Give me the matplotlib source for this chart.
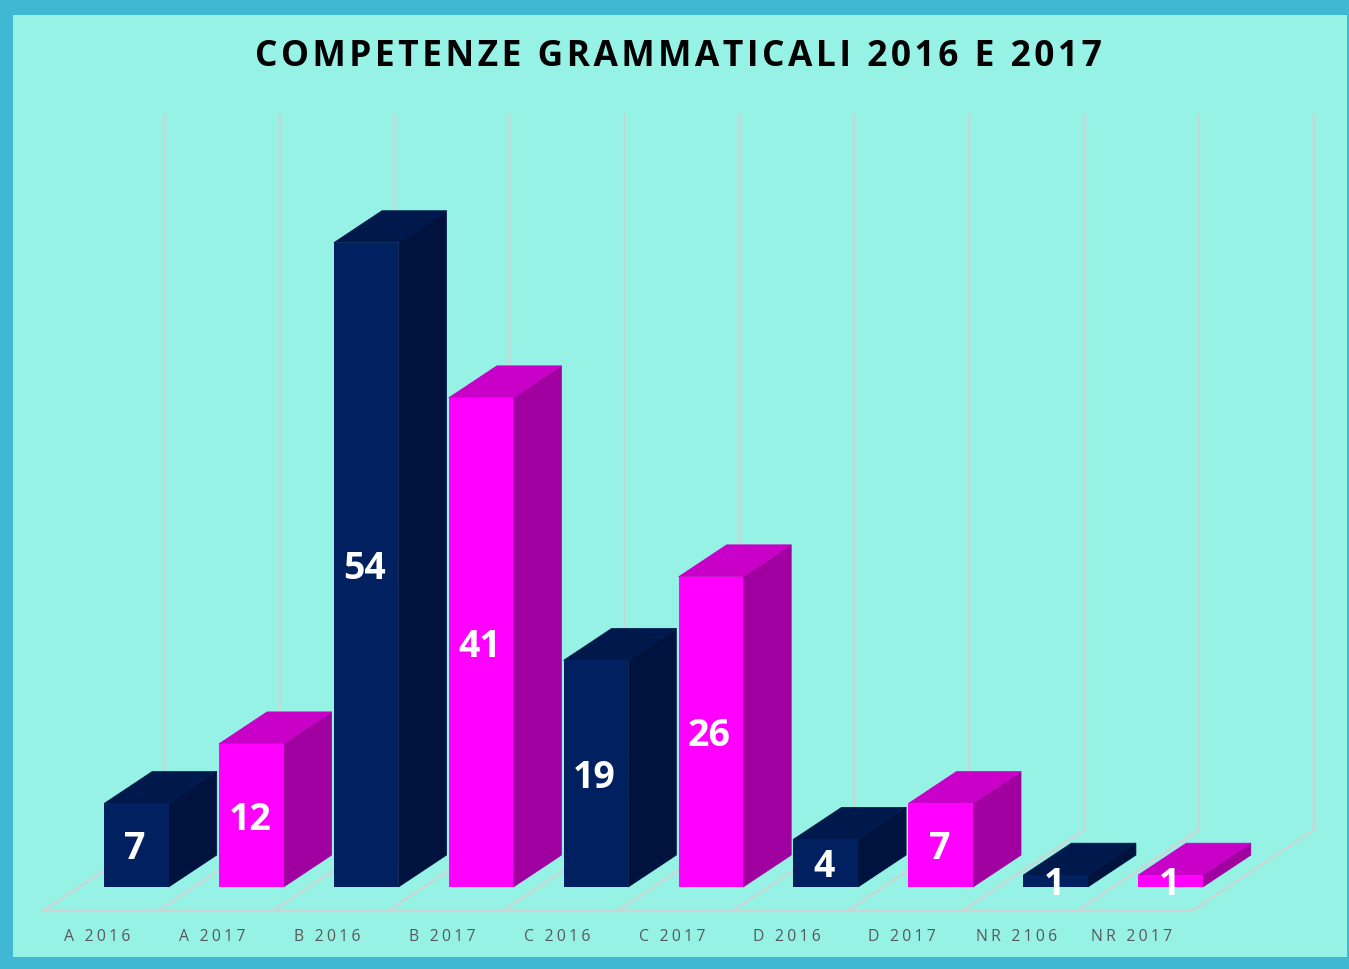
import matplotlib
matplotlib.use("Agg")
import matplotlib.pyplot as plt
from matplotlib.patches import Rectangle

plt.rcParams['font.family'] = ['Open Sans', 'DejaVu Sans']

title = "COMPETENZE GRAMMATICALI 2016 E 2017"
categories = ["A 2016", "A 2017", "B 2016", "B 2017", "C 2016",
              "C 2017", "D 2016", "D 2017", "NR 2106", "NR 2017"]
values = [7, 12, 54, 41, 19, 26, 4, 7, 1, 1]
# the colours alternate: 2016 navy, 2017 magenta
front_colors = ["#002060", "#FF00FF"]
top_colors = ["#00194C", "#C800C8"]
side_colors = ["#00123E", "#A000A0"]

WIDTH, HEIGHT = 1349, 969
AXIS_MAX = 60
STEP_PX = 114.9     # one category, in pixels
UNIT_PX = 11.93     # one value unit, in pixels
DEPTH_X = 122 / STEP_PX   # full floor depth, in category units
DEPTH_Y = 81 / UNIT_PX    # full floor depth, in value units
D_FRONT = 0.296     # bar front, as a fraction of the floor depth
D_BACK = 0.69       # bar back
BAR_W = 0.562
GRID = "#CDD5D4"


def spaced(s, n=1):
    # letter spacing, matplotlib has no option for it
    return ("\u200a" * n).join(s)


def project(x, v, d):
    return x + d * DEPTH_X, v + d * DEPTH_Y


fig = plt.figure(figsize=(WIDTH / 100, HEIGHT / 100), dpi=100, facecolor="#40B8D4")
fig.patches.append(Rectangle((13 / WIDTH, 1 - 957 / HEIGHT), 1334 / WIDTH, 942 / HEIGHT,
                             transform=fig.transFigure, facecolor="#95F2E5",
                             edgecolor="none", zorder=-1))

left, bottom = 42.8, 911
top = 114
ax = fig.add_axes([left / WIDTH, 1 - bottom / HEIGHT,
                   STEP_PX * len(categories) / WIDTH, (bottom - top) / HEIGHT])
ax.patch.set_visible(False)
ax.set_xlim(-0.5, len(categories) - 0.5)
ax.set_ylim(0, AXIS_MAX + DEPTH_Y)
for s in ax.spines.values():
    s.set_visible(False)
ax.set_yticks([])
ax.set_xticks([i - 0.025 for i in range(len(categories))])
ax.set_xticklabels([spaced(c, 2) for c in categories], fontsize=11.3, color="#595959")
ax.tick_params(axis="x", length=0, pad=12.8)

# floor and back wall
ax.plot([-0.5, len(categories) - 0.5], [0, 0], color=GRID, lw=1.6, zorder=1, clip_on=False)
for i in range(len(categories) + 1):
    x0 = i - 0.5
    xb, yb = project(x0, 0, 1)
    xt, yt = project(x0, AXIS_MAX, 1)
    ax.plot([x0, xb, xt], [0, yb, yt], color=GRID, lw=1.6, zorder=1, clip_on=False)

# 3D columns
for i, val in enumerate(values):
    c = i % 2
    x0 = i - BAR_W / 2
    x1 = i + BAR_W / 2
    fx, fy = project(0, 0, D_FRONT)
    corners = [project(x1, 0, D_FRONT), project(x1, 0, D_BACK),
               project(x1, val, D_BACK), project(x1, val, D_FRONT)]
    ax.fill([p[0] for p in corners], [p[1] for p in corners],
            color=side_colors[c], lw=0.5, zorder=3 + i, clip_on=False)
    corners = [project(x0, val, D_FRONT), project(x0, val, D_BACK),
               project(x1, val, D_BACK), project(x1, val, D_FRONT)]
    ax.fill([p[0] for p in corners], [p[1] for p in corners],
            color=top_colors[c], lw=0.5, zorder=3 + i, clip_on=False)
    ax.bar(i + fx, val, width=BAR_W, bottom=fy, color=front_colors[c], zorder=3 + i,
           clip_on=False)
    ax.annotate(str(val), (i + fx, fy + val / 2), xytext=(-1, -3), textcoords="offset points",
                color="white", fontsize=27, fontweight="bold",
                ha="center", va="center", zorder=30, annotation_clip=False)

fig.text(678.5 / WIDTH, 1 - 56.5 / HEIGHT, spaced(title), fontsize=25.5, fontweight="bold",
         color="black", ha="center", va="center")

fig.savefig("out.png", dpi=100, facecolor=fig.get_facecolor())
